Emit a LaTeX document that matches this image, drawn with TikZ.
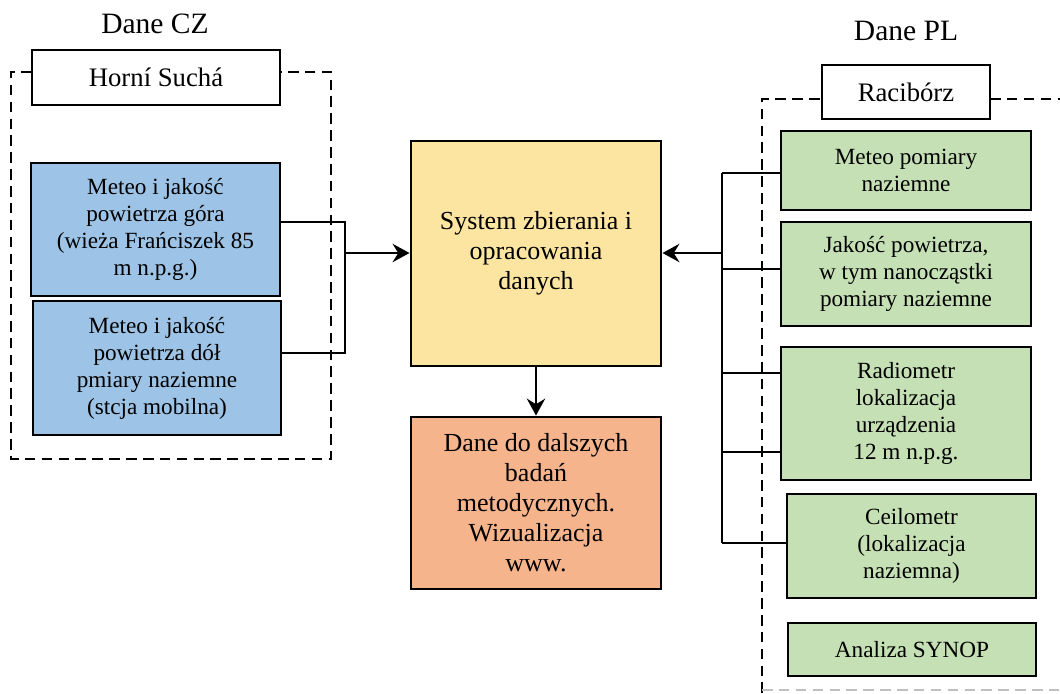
\documentclass[tikz,border=0pt]{standalone}
\usepackage{fontspec}
\setmainfont{Liberation Serif}
\usepackage{xcolor}
\usepackage{tikz}
\usetikzlibrary{arrows.meta}
\usetikzlibrary{positioning}

\definecolor{czblue}{HTML}{9DC3E6}
\definecolor{plgreen}{HTML}{C5E0B4}
\definecolor{sysyellow}{HTML}{FCE5A1}
\definecolor{outorange}{HTML}{F5B48C}

\tikzset{
  box/.style={draw, line width=2.1pt, align=center, inner sep=2pt,
    font=\fontsize{16.5}{19.2}\selectfont},
  bigbox/.style={box, font=\fontsize{18.5}{21.3}\selectfont},
  namebox/.style={box, fill=white, font=\fontsize{19}{22}\selectfont},
  frame/.style={line width=1.8pt, dash pattern=on 7.5pt off 4.5pt},
  link/.style={line width=1.9pt},
  arr/.style={link, -{Stealth[length=12pt,width=13pt,inset=4pt]}},
  head/.style={font=\fontsize{21}{24}\selectfont}
}

\begin{document}
\begin{tikzpicture}[x=0.025cm,y=-0.025cm]
	\useasboundingbox (0,0) rectangle (1060,693);
	% Czech side
	\node[head] (cz) at (155,24) {Dane CZ};
	\draw[frame] (32,72) -- (11,72) -- (11,459) -- (331,459) -- (331,72) -- (280,72);
	\node[namebox, minimum width=248*0.025cm, minimum height=55*0.025cm] (hs) at (156,77.5) {Horní Suchá};
	\node[box, fill=czblue, minimum width=249*0.025cm, minimum height=133*0.025cm] (czup) at (155.5,229.5)
	     {Meteo i jakość\\powietrza góra\\(wieża Frańciszek 85\\m n.p.g.)};
	\node[box, fill=czblue, minimum width=248*0.025cm, minimum height=134*0.025cm] (czdown) at (157,368)
	     {Meteo i jakość\\powietrza dół\\pmiary naziemne\\(stcja mobilna)};
	% centre
	\node[bigbox, fill=sysyellow, minimum width=250*0.025cm, minimum height=225*0.025cm] (sys) at (536,253.5)
	     {System zbierania i\\opracowania\\danych};
	\node[bigbox, fill=outorange, minimum width=250*0.025cm, minimum height=172*0.025cm] (out) at (536,503)
	     {Dane do dalszych\\badań\\metodycznych.\\Wizualizacja\\www.};
	% Polish side
	\node[head] (pl) at (906,31) {Dane PL};
	\draw[frame] (762,693) -- (762,99) -- (822,99);
	\draw[frame] (990,99) -- (1060,99);
	\draw[frame, gray!50, line width=1.2pt] (762,690) -- (1060,690);
	\node[namebox, minimum width=168*0.025cm, minimum height=54*0.025cm] (rac) at (906,92) {Racibórz};
	\node[box, fill=plgreen, minimum width=250*0.025cm, minimum height=79*0.025cm] (meteo) at (906,170.5)
	     {Meteo pomiary\\naziemne};
	\node[box, fill=plgreen, minimum width=250*0.025cm, minimum height=104*0.025cm] (air) at (906,274)
	     {Jakość powietrza,\\w tym nanocząstki\\pomiary naziemne};
	\node[box, fill=plgreen, minimum width=250*0.025cm, minimum height=133*0.025cm] (radio) at (906,413.5)
	     {Radiometr\\lokalizacja\\urządzenia\\12 m n.p.g.};
	\node[box, fill=plgreen, minimum width=249*0.025cm, minimum height=104*0.025cm] (ceilo) at (911.5,546)
	     {Ceilometr\\(lokalizacja\\naziemna)};
	\node[box, fill=plgreen, minimum width=248*0.025cm, minimum height=53*0.025cm] (synop) at (912,649.5)
	     {Analiza SYNOP};
	% connectors
	\coordinate (l1) at (345,222);
	\coordinate (l2) at (345,353);
	\coordinate (lin) at (345,253);
	\draw[link] (czup.east |- l1) -- (l1) -- (l2) -- (czdown.east |- l2);
	\draw[arr] (lin) -- (sys.west |- lin);
	\draw[arr] (sys.south) -- (out.north);
	\coordinate (r1) at (722,173);
	\coordinate (r2) at (722,269);
	\coordinate (r3) at (722,373);
	\coordinate (r4) at (722,452);
	\coordinate (r5) at (722,543);
	\coordinate (rin) at (722,253);
	\draw[link] (r1) -- (r5);
	\draw[link] (r1) -- (meteo.west |- r1);
	\draw[link] (r2) -- (air.west |- r2);
	\draw[link] (r3) -- (radio.west |- r3);
	\draw[link] (r4) -- (radio.west |- r4);
	\draw[link] (r5) -- (ceilo.west |- r5);
	\draw[arr] (rin) -- (sys.east |- rin);
\end{tikzpicture}
\end{document}
